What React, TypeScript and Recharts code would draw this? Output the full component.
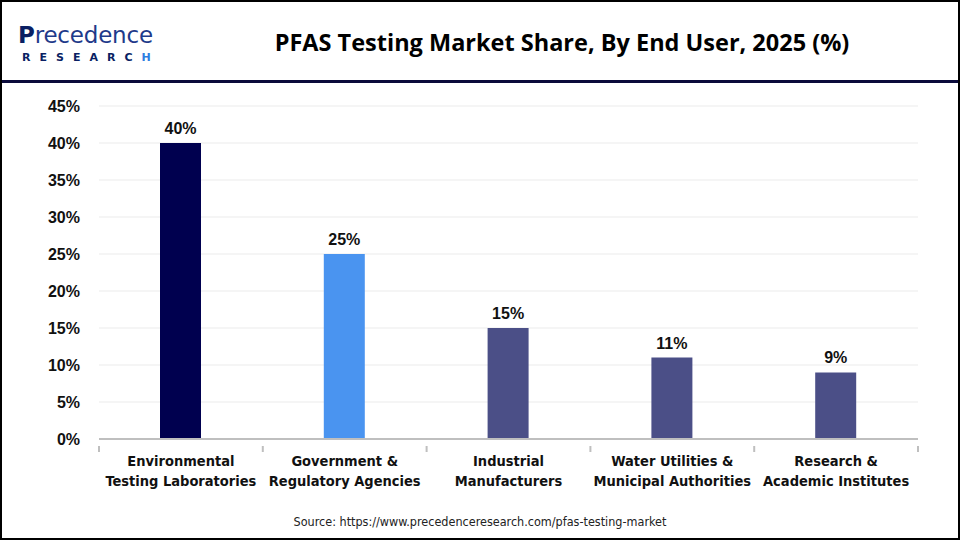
import { BarChart, Bar, XAxis, YAxis, CartesianGrid, Cell, LabelList } from 'recharts'

const categories = [
  'Environmental\nTesting Laboratories',
  'Government &\nRegulatory Agencies',
  'Industrial\nManufacturers',
  'Water Utilities &\nMunicipal Authorities',
  'Research &\nAcademic Institutes',
]
const shares = [40, 25, 15, 11, 9]
const barColors = ['#00004f', '#4a94f0', '#4b4f87', '#4b4f87', '#4b4f87']
const yTicks = [0, 5, 10, 15, 20, 25, 30, 35, 40, 45]

const data = categories.map((c, i) => ({ name: c, share: shares[i] }))

const W = 960
const H = 540
const LEFT = 99
const RIGHT = 42
const BAND = (W - LEFT - RIGHT) / categories.length

function CategoryTick(props: any) {
  const { x, y, payload, index } = props
  const lines = String(payload.value).split('\n')
  return (
    <g>
      <line x1={x - BAND / 2} x2={x - BAND / 2} y1={y - 1} y2={y + 5} stroke="#bfbfbf" strokeWidth={2} />
      {index === categories.length - 1 && (
        <line x1={x + BAND / 2} x2={x + BAND / 2} y1={y - 1} y2={y + 5} stroke="#bfbfbf" strokeWidth={2} />
      )}
      <text
        x={x}
        y={y + 19}
        textAnchor="middle"
        fill="#111"
        fontSize={14.5}
        fontWeight={600}
        fontFamily="'DejaVu Sans Condensed', 'DejaVu Sans', sans-serif"
        style={{ fontStretch: 'condensed' }}
      >
        {lines.map((l, i) => (
          <tspan key={i} x={x} dy={i === 0 ? 0 : 20}>
            {l}
          </tspan>
        ))}
      </text>
    </g>
  )
}

function Logo() {
  return (
    <div style={{ position: 'absolute', left: 16, top: 20 }}>
      <div
        style={{
          fontFamily: "'DejaVu Sans', sans-serif",
          fontSize: 23,
          lineHeight: '26px',
          height: 26,
          color: '#1e3a8a',
          letterSpacing: -0.2,
        }}
      >
        <span style={{ fontWeight: 800, color: '#0a1f63' }}>P</span>recedence
      </div>
      <div
        style={{
          fontFamily: "'DejaVu Sans', sans-serif",
          fontSize: 11,
          lineHeight: '12px',
          fontWeight: 700,
          color: '#0a1f63',
          letterSpacing: 9,
          marginTop: 4,
          marginLeft: 4,
          whiteSpace: 'nowrap',
        }}
      >
        RESEARC<span style={{ color: '#2f7de1', letterSpacing: 0 }}>H</span>
      </div>
    </div>
  )
}

export default function App() {
  return (
    <div
      style={{
        position: 'absolute',
        left: 0,
        top: 0,
        width: W,
        height: H,
        background: '#fff',
        boxSizing: 'border-box',
        border: '2px solid #000',
        overflow: 'hidden',
      }}
    >
      <Logo />
      <div
        style={{
          position: 'absolute',
          left: 190,
          width: 740,
          top: 24,
          textAlign: 'center',
          fontFamily: "'Open Sans', 'Noto Sans', sans-serif",
          fontWeight: 700,
          fontSize: 23.5,
          color: '#000',
        }}
      >
        PFAS Testing Market Share, By End User, 2025 (%)
      </div>
      <div style={{ position: 'absolute', left: 0, right: 0, top: 78, height: 3, background: '#0b0b3b' }} />
      <div style={{ position: 'absolute', left: -2, top: -2 }}>
        <BarChart width={W} height={H} data={data} margin={{ top: 106, right: RIGHT, bottom: 0, left: 0 }}>
          <CartesianGrid vertical={false} stroke="#ebebeb" />
          <XAxis
            dataKey="name"
            axisLine={{ stroke: '#bfbfbf', strokeWidth: 2 }}
            tickLine={false}
            interval={0}
            height={101}
            tick={<CategoryTick />}
          />
          <YAxis
            width={LEFT}
            domain={[0, 45]}
            ticks={yTicks}
            tickFormatter={(v: number) => `${v}%`}
            axisLine={false}
            tickLine={false}
            tickSize={0}
            tickMargin={19}
            tick={{ fill: '#111', fontSize: 16, fontWeight: 700, fontFamily: "'Liberation Sans', Arial, sans-serif" }}
          />
          <Bar dataKey="share" barSize={41} isAnimationActive={false}>
            {data.map((_, i) => (
              <Cell key={i} fill={barColors[i]} />
            ))}
            <LabelList
              dataKey="share"
              position="top"
              offset={9}
              formatter={(v: any) => `${v}%`}
              style={{ fill: '#111', fontSize: 16, fontWeight: 700, fontFamily: "'Liberation Sans', Arial, sans-serif" }}
            />
          </Bar>
        </BarChart>
      </div>
      <div
        style={{
          position: 'absolute',
          left: 0,
          right: 0,
          top: 512,
          textAlign: 'center',
          fontFamily: "'DejaVu Sans Condensed', 'DejaVu Sans', sans-serif",
          fontStretch: 'condensed',
          fontSize: 12.5,
          color: '#222',
        }}
      >
        Source: https://www.precedenceresearch.com/pfas-testing-market
      </div>
    </div>
  )
}
